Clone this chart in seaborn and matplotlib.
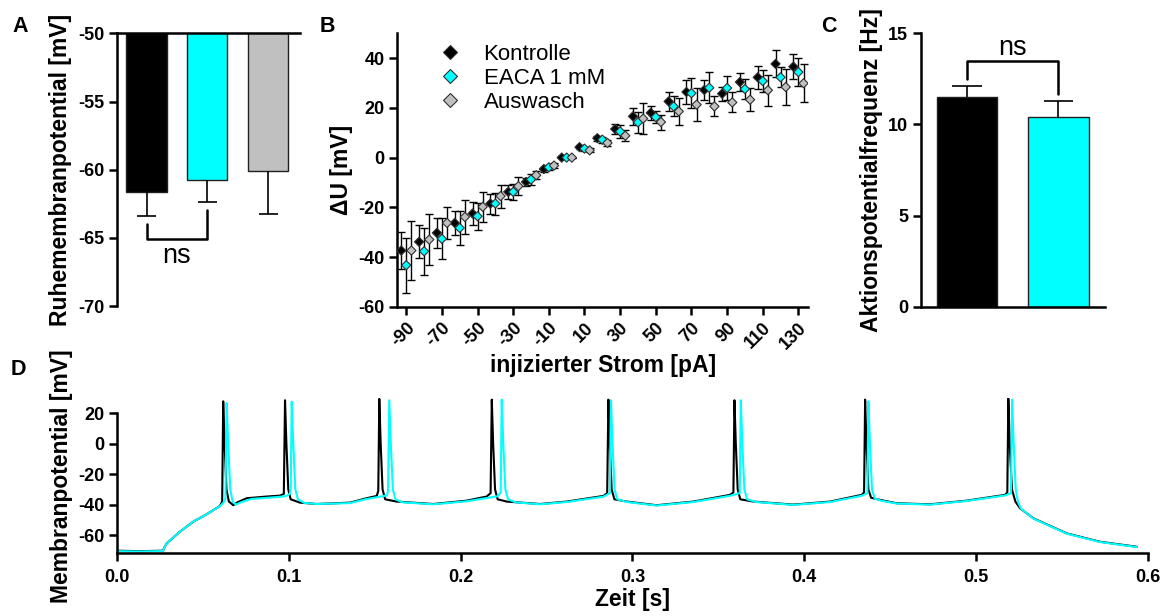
import numpy as np
import pandas as pd
import seaborn as sns
import matplotlib
matplotlib.use("Agg")
import matplotlib.pyplot as plt

# ==============================================================================
# DATA
# ==============================================================================
# A - Ruhemembranpotential
BEDINGUNGEN_A = ["Kontrolle", "EACA 1 mM", "Auswasch"]
RMP_MW = [-61.66, -60.73, -60.07]
RMP_SEM = [1.75, 1.64, 3.15]

# B - Strom-Spannungs-Beziehung
STROM = [-90, -80, -70, -60, -50, -40, -30, -20, -10, 0, 10, 20,
         30, 40, 50, 60, 70, 80, 90, 100, 110, 120, 130]
KONTROLLE_MW = [-37.4, -33.9, -30.3, -26.3, -22.5, -18.5, -13.8, -9.8, -4.6, 0.0, 4.2, 7.8,
                11.5, 16.6, 18.0, 22.6, 26.4, 27.2, 25.7, 30.4, 32.3, 37.7, 36.6]
KONTROLLE_SEM = [7.5, 6.7, 6.0, 5.0, 4.8, 4.0, 2.7, 1.6, 1.0, 0.0, 0.8, 1.0,
                 2.2, 3.4, 2.9, 3.9, 5.0, 4.2, 2.8, 3.6, 4.7, 5.4, 5.1]
EACA_MW = [-43.3, -37.7, -32.7, -28.3, -23.6, -18.5, -13.8, -8.8, -3.9, 0.0, 3.6, 7.2,
           10.5, 14.2, 16.3, 20.6, 25.9, 28.1, 28.0, 27.6, 30.8, 32.3, 34.4]
EACA_SEM = [11.0, 9.5, 8.3, 6.7, 5.4, 4.4, 3.1, 2.1, 1.0, 0.0, 0.8, 1.2,
            2.5, 4.3, 2.5, 4.0, 6.1, 6.3, 5.0, 4.0, 4.6, 4.0, 5.7]
AUSWASCH_MW = [-37.4, -33.0, -26.3, -23.9, -19.8, -15.5, -11.5, -7.1, -3.2, 0.0, 2.9, 5.9,
               8.8, 15.7, 14.3, 18.6, 21.3, 20.6, 22.2, 23.3, 27.1, 28.4, 29.9]
AUSWASCH_SEM = [11.7, 10.4, 6.5, 6.7, 6.0, 4.6, 3.6, 1.6, 1.0, 0.0, 0.8, 1.3,
                2.2, 6.3, 3.0, 5.3, 6.7, 4.0, 4.0, 4.7, 6.2, 7.1, 7.7]

# C - Aktionspotentialfrequenz
BEDINGUNGEN_C = ["Kontrolle", "EACA 1 mM"]
AP_FREQ_MW = [11.49, 10.40]
AP_FREQ_SEM = [0.60, 0.87]

SPUR_KONTROLLE = [
    (0.000, -70.3), (0.013, -70.6), (0.0266, -70.3), (0.0278, -67.5), (0.0288, -65.5),
    (0.0365, -57.8), (0.0443, -51.2), (0.0520, -46.4), (0.0598, -40.9), (0.0611, -38.0),
    (0.0617, 27.9), (0.0625, 0.0), (0.0636, -30.0), (0.0650, -38.0), (0.0676, -40.4),
    (0.0700, -38.5), (0.0754, -35.8), (0.0870, -34.7), (0.0948, -34.1), (0.0970, -33.0),
    (0.0977, 28.6), (0.0985, 0.0), (0.0996, -30.0), (0.1010, -36.5), (0.1064, -38.7),
    (0.1161, -39.6), (0.1355, -38.7), (0.1452, -35.8), (0.1511, -34.3), (0.1520, -31.0),
    (0.1526, 29.5), (0.1534, 0.0), (0.1545, -30.0), (0.1560, -36.5), (0.1627, -38.0),
    (0.1840, -39.6), (0.2035, -37.4), (0.2151, -34.7), (0.2174, -32.5), (0.2181, 29.0),
    (0.2189, 0.0), (0.2200, -30.0), (0.2215, -36.5), (0.2268, -38.0), (0.2462, -39.6),
    (0.2617, -38.0), (0.2831, -34.3), (0.2853, -32.5), (0.2860, 29.0), (0.2868, 0.0),
    (0.2879, -30.0), (0.2895, -36.5), (0.2967, -38.0), (0.3141, -40.4), (0.3355, -38.0),
    (0.3568, -33.6), (0.3588, -32.0), (0.3594, 28.6), (0.3602, 0.0), (0.3613, -30.0),
    (0.3628, -36.5), (0.3704, -38.0), (0.3937, -40.0), (0.4151, -38.0), (0.4335, -33.6),
    (0.4349, -32.0), (0.4355, 29.0), (0.4363, 0.0), (0.4374, -30.0), (0.4390, -35.5),
    (0.4442, -36.9), (0.4539, -39.1), (0.4733, -39.8), (0.4947, -37.4), (0.5170, -33.6),
    (0.5183, -32.0), (0.5189, 29.7), (0.5197, 0.0), (0.5210, -30.0), (0.5230, -38.0),
    (0.5257, -42.4), (0.5335, -49.0), (0.5529, -58.9), (0.5723, -64.4), (0.5937, -67.7),
]
SPUR_EACA = [
    (0.000, -70.6), (0.013, -70.8), (0.0266, -70.5), (0.0278, -67.5), (0.0288, -65.5),
    (0.0365, -57.8), (0.0443, -51.2), (0.0520, -46.4), (0.0598, -41.0), (0.0620, -38.5),
    (0.0630, -36.0), (0.0637, 26.8), (0.0646, 0.0), (0.0658, -30.0), (0.0672, -38.0),
    (0.0690, -40.0), (0.0720, -38.5), (0.0780, -36.3), (0.0900, -35.3), (0.0980, -34.5),
    (0.1005, -33.0), (0.1010, -30.0), (0.1016, 27.7), (0.1025, 0.0), (0.1037, -30.0),
    (0.1052, -36.5), (0.1090, -38.9), (0.1161, -39.6), (0.1355, -39.0), (0.1452, -36.3),
    (0.1570, -34.0), (0.1577, -31.0), (0.1584, 28.6), (0.1593, 0.0), (0.1605, -30.0),
    (0.1620, -36.5), (0.1660, -38.5), (0.1840, -39.8), (0.2035, -37.8), (0.2215, -34.5),
    (0.2233, -32.0), (0.2239, 29.0), (0.2248, 0.0), (0.2260, -30.0), (0.2276, -36.5),
    (0.2320, -38.5), (0.2462, -39.8), (0.2617, -38.3), (0.2831, -34.8), (0.2868, -32.5),
    (0.2875, 28.6), (0.2884, 0.0), (0.2896, -30.0), (0.2912, -36.5), (0.2967, -38.3),
    (0.3141, -40.6), (0.3355, -38.3), (0.3568, -34.2), (0.3625, -32.5), (0.3631, 28.6),
    (0.3640, 0.0), (0.3652, -30.0), (0.3668, -36.5), (0.3720, -38.3), (0.3937, -40.2),
    (0.4151, -38.3), (0.4335, -34.2), (0.4368, -32.5), (0.4374, 27.9), (0.4383, 0.0),
    (0.4395, -30.0), (0.4411, -36.0), (0.4450, -37.5), (0.4539, -39.3), (0.4733, -40.0),
    (0.4947, -37.6), (0.5170, -34.0), (0.5204, -32.5), (0.5211, 29.0), (0.5220, 0.0),
    (0.5232, -30.0), (0.5245, -38.0), (0.5262, -42.6), (0.5335, -49.2), (0.5529, -59.1),
    (0.5723, -64.6), (0.5937, -67.9),
]

# ==============================================================================
# STYLE
# ==============================================================================
CYAN = "#00FFFF"
GRAU = "#C0C0C0"
sns.set_theme(style="ticks")
plt.rcParams["font.family"] = ["Liberation Sans", "DejaVu Sans"]
plt.rcParams.update({
    "axes.linewidth": 1.8, "axes.edgecolor": "black", "axes.labelcolor": "black",
    "text.color": "black", "xtick.color": "black", "ytick.color": "black",
    "xtick.major.width": 1.8, "ytick.major.width": 1.8,
    "xtick.major.size": 5.5, "ytick.major.size": 5.5,
    "axes.unicode_minus": False,
})
TICK_FS = 13
LABEL_FS = 16.5
NS_FS = 19.5


def style_ticks(ax):
    for lab in ax.get_xticklabels() + ax.get_yticklabels():
        lab.set_fontweight("bold")
        lab.set_fontsize(TICK_FS)


fig = plt.figure(figsize=(11.69, 6.16), dpi=100)

# ==============================================================================
# A
# ==============================================================================
axA = fig.add_axes([0.0998, 0.5032, 0.1568, 0.4427])
dfA = pd.DataFrame({"Bedingung": BEDINGUNGEN_A, "Wert": RMP_MW})
sns.barplot(data=dfA, x="Bedingung", y="Wert", hue="Bedingung",
            palette=["black", CYAN, GRAU], saturation=1, width=0.66,
            edgecolor="#202020", linewidth=1, legend=False, ax=axA)
xa = np.arange(len(RMP_MW))
unten = np.array(RMP_MW) - np.array(RMP_SEM)
axA.vlines(xa, RMP_MW, unten, color="black", lw=1.2)
axA.hlines(unten, xa - 0.16, xa + 0.16, color="black", lw=1.2)
axA.set_ylim(-70, -50)
axA.set_xlim(-0.49, 2.52)
axA.set_yticks([-70, -65, -60, -55, -50])
axA.set_xticks([])
axA.set_xlabel("")
axA.set_ylabel("Ruhemembranpotential [mV]", fontsize=LABEL_FS, fontweight="bold")
axA.spines["bottom"].set_visible(False)
axA.spines["right"].set_visible(False)
axA.spines["top"].set_visible(True)
style_ticks(axA)
# ns bracket
axA.plot([0, 0, 1, 1], [unten[0] - 0.6, -65.07, -65.07, unten[1] - 0.6],
         color="black", lw=1.8, clip_on=False)
axA.text(0.5, -66.35, "ns", ha="center", va="center", fontsize=NS_FS)

# ==============================================================================
# B
# ==============================================================================
axB = fig.add_axes([0.3399, 0.5021, 0.3516, 0.4438])
versatz = {"Kontrolle": -2.8, "EACA 1 mM": 0.0, "Auswasch": 2.9}
reihen = [("Kontrolle", KONTROLLE_MW, KONTROLLE_SEM),
          ("EACA 1 mM", EACA_MW, EACA_SEM),
          ("Auswasch", AUSWASCH_MW, AUSWASCH_SEM)]
teile = []
for name, mw, sem in reihen:
    x = np.array(STROM) + versatz[name]
    axB.errorbar(x, mw, yerr=sem, fmt="none", ecolor="black", elinewidth=1,
                 capsize=3, capthick=1, zorder=1)
    teile.append(pd.DataFrame({"x": x, "dU": mw, "Bedingung": name}))
dfB = pd.concat(teile, ignore_index=True)
sns.scatterplot(data=dfB, x="x", y="dU", hue="Bedingung",
                palette={"Kontrolle": "black", "EACA 1 mM": CYAN, "Auswasch": GRAU},
                marker="D", s=22, edgecolor="#303030", linewidth=0.8,
                zorder=3, ax=axB)
axB.set_xlim(-95, 135.6)
axB.set_ylim(-60, 50)
axB.set_xticks(np.arange(-90, 131, 20))
axB.set_yticks([-60, -40, -20, 0, 20, 40])
axB.set_xlabel("injizierter Strom [pA]", fontsize=LABEL_FS, fontweight="bold", labelpad=1)
axB.set_ylabel("ΔU [mV]", fontsize=LABEL_FS, fontweight="bold")
sns.despine(ax=axB)
style_ticks(axB)
for lab in axB.get_xticklabels():
    lab.set_rotation(45)
    lab.set_ha("right")
    lab.set_rotation_mode("anchor")
axB.legend(loc="upper left", bbox_to_anchor=(0.08, 0.995), frameon=False,
           fontsize=16, markerscale=1.6, handletextpad=1.0, labelspacing=0.15,
           handlelength=1.0, borderaxespad=0)

# ==============================================================================
# C
# ==============================================================================
axC = fig.add_axes([0.7876, 0.5021, 0.1577, 0.4438])
dfC = pd.DataFrame({"Bedingung": BEDINGUNGEN_C, "Wert": AP_FREQ_MW})
sns.barplot(data=dfC, x="Bedingung", y="Wert", hue="Bedingung",
            palette=["black", CYAN], saturation=1, width=0.66, edgecolor="#202020",
            linewidth=1, legend=False, ax=axC)
xc = np.arange(len(AP_FREQ_MW))
oben = np.array(AP_FREQ_MW) + np.array(AP_FREQ_SEM)
axC.vlines(xc, AP_FREQ_MW, oben, color="black", lw=1.2)
axC.hlines(oben, xc - 0.16, xc + 0.16, color="black", lw=1.2)
axC.set_ylim(0, 15)
axC.set_xlim(-0.507, 1.51)
axC.set_yticks([0, 5, 10, 15])
axC.set_xticks([])
axC.set_xlabel("")
axC.set_ylabel("Aktionspotentialfrequenz [Hz]", fontsize=LABEL_FS, fontweight="bold")
sns.despine(ax=axC)
style_ticks(axC)
axC.plot([0, 0, 1, 1], [oben[0] + 0.4, 13.5, 13.5, oben[1] + 0.4],
         color="black", lw=1.8)
axC.text(0.5, 14.2, "ns", ha="center", va="center", fontsize=NS_FS)

# ==============================================================================
# D
# ==============================================================================
axD = fig.add_axes([0.1003, 0.1018, 0.8814, 0.2519])
for spur, farbe in [(SPUR_KONTROLLE, "black"), (SPUR_EACA, CYAN)]:
    zeit, spannung = zip(*spur)
    sns.lineplot(x=list(zeit), y=list(spannung), color=farbe, lw=1.5,
                 estimator=None, sort=False, ax=axD)
axD.set_xlim(0, 0.6)
axD.set_ylim(-72, 30)
axD.set_yticks([-60, -40, -20, 0, 20])
xticks_d = [0.0, 0.1, 0.2, 0.3, 0.4, 0.5, 0.6]
axD.set_xticks(xticks_d)
axD.set_xticklabels([f"{v:.1f}" for v in xticks_d])
axD.tick_params(axis="x", pad=6)
sns.despine(ax=axD)
axD.spines["left"].set_bounds(-72, 20)
axD.set_xlabel("Zeit [s]", fontsize=LABEL_FS, fontweight="bold", labelpad=1)
axD.set_ylabel("Membranpotential [mV]", fontsize=LABEL_FS, fontweight="bold")
style_ticks(axD)

# panel letters
for buchst, (px, py) in {"A": (12, 32), "B": (320, 32), "C": (821, 32), "D": (11, 375)}.items():
    fig.text(px / 1169, 1 - py / 616, buchst, fontsize=15.5, fontweight="bold",
             ha="left", va="baseline")

fig.savefig("out.png", dpi=100)
